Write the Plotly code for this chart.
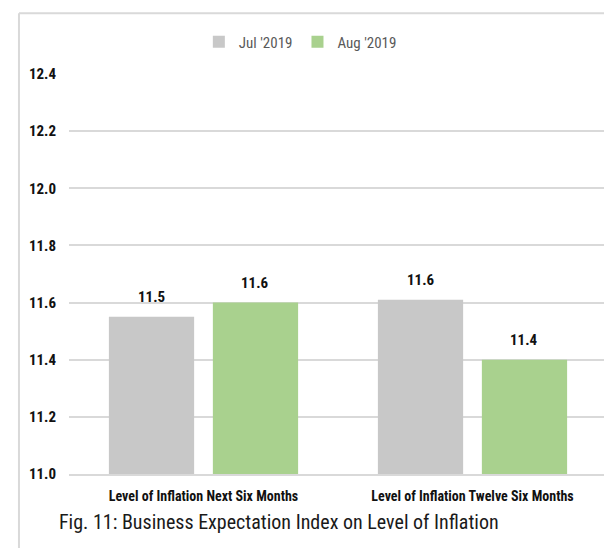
import plotly.graph_objects as go

categories = ["Level of Inflation Next Six Months", "Level of Inflation Twelve Six Months"]
jul_values = [11.55, 11.61]
aug_values = [11.60, 11.40]
jul_labels = ["11.5", "11.6"]
aug_labels = ["11.6", "11.4"]
series_names = ["Jul '2019", "Aug '2019"]
y_ticks = [11.0, 11.2, 11.4, 11.6, 11.8, 12.0, 12.2, 12.4]
title_text = "Fig. 11: Business Expectation Index on Level of Inflation"

GRAY = "#C8C8C8"
GREEN = "#A9D18E"
GRID = "#D9D9D9"
FONT = "Liberation Sans Narrow, Roboto Condensed, Liberation Sans, sans-serif"

W, H = 612, 548
ML, MR, MT, MB = 61, 13, 66, 82
BARGAP = 0.227
BARGROUPGAP = 0.18

fig = go.Figure()
fig.add_trace(go.Bar(x=categories, y=jul_values, name=series_names[0],
                     marker=dict(color=GRAY, line=dict(width=0))))
fig.add_trace(go.Bar(x=categories, y=aug_values, name=series_names[1],
                     marker=dict(color=GREEN, line=dict(width=0))))

# data labels positioned over each grouped bar
plot_w = W - ML - MR
cat_w = plot_w / len(categories)
slot = cat_w * (1 - BARGAP) / 2
for vals, labs, sign in ((jul_values, jul_labels, -1), (aug_values, aug_labels, 1)):
    for c, v, t in zip(categories, vals, labs):
        fig.add_annotation(x=c, y=v, text=t, showarrow=False, xref="x", yref="y",
                           xshift=sign * slot / 2, yshift=9, yanchor="bottom",
                           font=dict(family=FONT, size=15, color="#111111", weight="bold"))

fig.add_annotation(x=-0.022, y=-0.12, xref="paper", yref="paper", xanchor="left",
                   yanchor="middle", showarrow=False, text=title_text,
                   font=dict(family=FONT, size=20, color="#1a1a1a"))

# frame lines (top and left)
fig.add_shape(type="line", xref="paper", yref="paper", x0=-0.093, x1=1.05,
              y0=1.152, y1=1.152, line=dict(color=GRID, width=2))
fig.add_shape(type="line", xref="paper", yref="paper", x0=-0.093, x1=-0.093,
              y0=1.152, y1=-0.21, line=dict(color=GRID, width=2))

fig.update_layout(
    width=W, height=H,
    margin=dict(l=ML, r=MR, t=MT, b=MB),
    paper_bgcolor="white", plot_bgcolor="white",
    barmode="group", bargap=BARGAP, bargroupgap=BARGROUPGAP,
    showlegend=True,
    legend=dict(orientation="h", x=0.43, xanchor="center", y=1.08, yanchor="middle",
                font=dict(family=FONT, size=15, color="#595959"),
                bgcolor="rgba(0,0,0,0)"),
    xaxis=dict(showgrid=False, showline=True, linecolor=GRID, linewidth=1.5,
               ticks="", ticklabelstandoff=8,
               tickfont=dict(family=FONT, size=14, color="#111111", weight="bold")),
    yaxis=dict(range=[11.0, 12.4], tickvals=y_ticks,
               ticktext=[f"{v:.1f}" for v in y_ticks],
               showgrid=True, gridcolor=GRID, gridwidth=1.5, zeroline=False,
               showline=False, ticks="", ticklabelstandoff=12,
               tickfont=dict(family=FONT, size=15, color="#111111", weight="bold")),
    font=dict(family=FONT),
)

fig.write_html("out.html")
